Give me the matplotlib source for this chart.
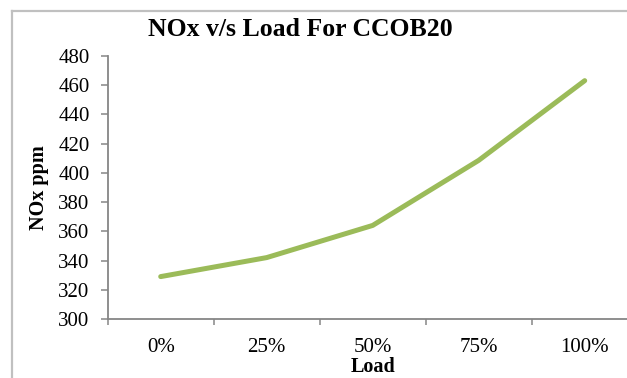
import matplotlib
matplotlib.use("Agg")
import matplotlib.pyplot as plt
from matplotlib.lines import Line2D

# Data
loads = ["0%", "25%", "50%", "75%", "100%"]
nox_ppm = [329, 342, 364, 408.5, 463]
y_ticks = [300, 320, 340, 360, 380, 400, 420, 440, 460, 480]

W, H, DPI = 627, 378, 100
plt.rcParams["font.family"] = ["Liberation Serif", "DejaVu Serif"]

fig = plt.figure(figsize=(W / DPI, H / DPI), dpi=DPI)
fig.patch.set_facecolor("white")

# Outer chart-area frame (only left and top edges fall inside the canvas)
frame_col = "#c0c0c0"
fig.add_artist(Line2D([11.5 / W, 11.5 / W], [0, 1 - 10.5 / H],
                      transform=fig.transFigure, color=frame_col, lw=1.6))
fig.add_artist(Line2D([11.5 / W, 1.0], [1 - 10.5 / H, 1 - 10.5 / H],
                      transform=fig.transFigure, color=frame_col, lw=1.6))

left, right_px = 107.7, 637.7
top_px, bottom_px = 55.8, 319.0
ax = fig.add_axes([left / W, 1 - bottom_px / H,
                   (right_px - left) / W, (bottom_px - top_px) / H])

x = list(range(len(loads)))
ax.plot(x, nox_ppm, color="#9BBB59", lw=3.6, solid_capstyle="round",
        solid_joinstyle="round")

ax.set_xlim(-0.5, len(loads) - 0.5)
ax.set_ylim(300, 480)
ax.set_yticks(y_ticks)
ax.set_xticks(x)
ax.set_xticklabels(loads)
ax.set_xticks([i - 0.5 for i in range(len(loads) + 1)], minor=True)

axis_col = "#868686"
for side in ("top", "right"):
    ax.spines[side].set_visible(False)
for side in ("left", "bottom"):
    ax.spines[side].set_color(axis_col)
    ax.spines[side].set_linewidth(1.3)

ax.tick_params(axis="y", direction="out", length=5, width=1.1, color=axis_col,
               labelsize=15, pad=8)
ax.tick_params(axis="x", which="major", length=0, labelsize=15, pad=14)
ax.tick_params(axis="x", which="minor", direction="out", length=4.5,
               width=1.1, color=axis_col)

ax.set_ylabel("NOx ppm", fontsize=14.5, fontweight="bold", labelpad=7)
ax.set_xlabel("Load", fontsize=14.5, fontweight="bold", labelpad=0)

fig.text(300 / W, 1 - 30 / H, "NOx v/s Load For CCOB20", ha="center",
         va="center", fontsize=18.5, fontweight="bold")

fig.savefig("out.png", dpi=DPI)
